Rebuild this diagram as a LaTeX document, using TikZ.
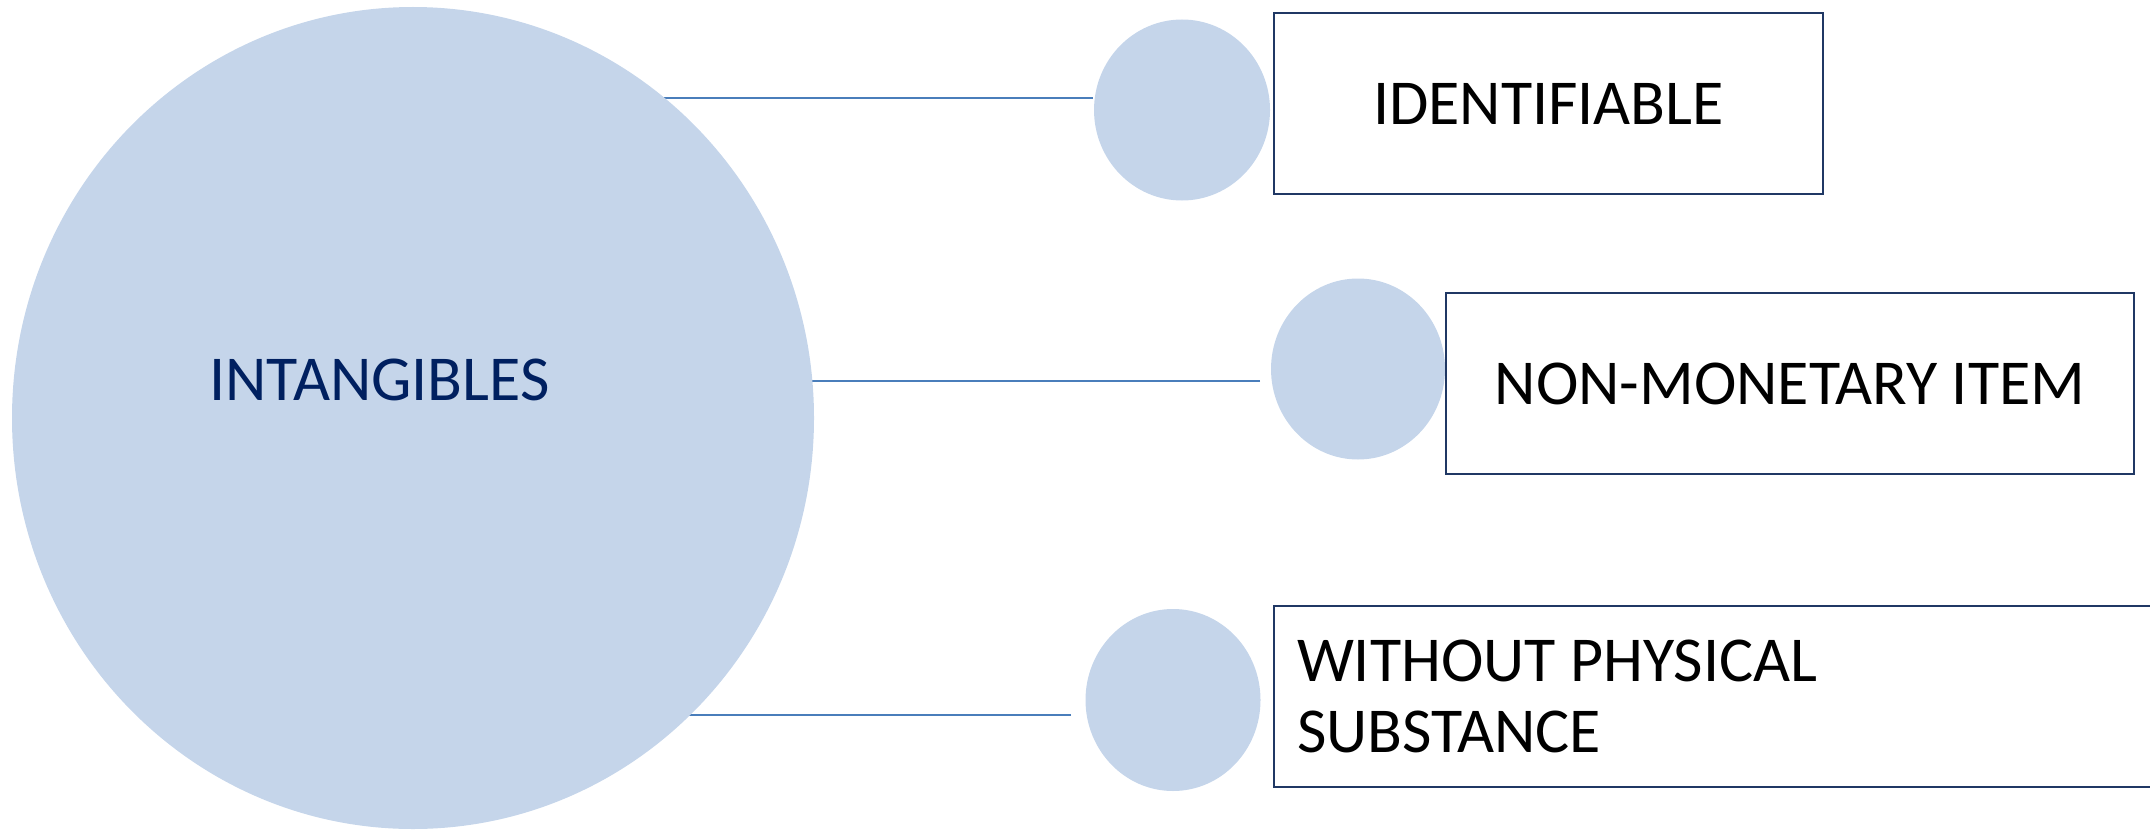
\documentclass[tikz,border=0pt]{standalone}
\usepackage{fontspec}
\setmainfont{Carlito}
\usetikzlibrary{shapes.geometric}
\definecolor{bubble}{HTML}{C5D5EA}
\definecolor{navy}{HTML}{002060}
\definecolor{boxline}{HTML}{203864}
\definecolor{conn}{HTML}{4A7EBB}
\tikzset{
  bubblenode/.style={ellipse, fill=bubble, draw=none, inner sep=0pt},
  itembox/.style={rectangle, draw=boxline, line width=0.9pt, fill=white, inner sep=0pt,
    font=\fontsize{32}{35.5}\selectfont, text=black},
  connline/.style={draw=conn, line width=1.1pt},
}
\begin{document}
\begin{tikzpicture}[x=0.5pt, y=-0.5pt]
\useasboundingbox (0,0) rectangle (2150,829);
% connector end points
\coordinate (e1) at (1093,98);
\coordinate (e2) at (1260,381);
\coordinate (e3) at (1071,715);
% big circle centre (for connector start)
\coordinate (bc) at (413,418);
\draw[connline] (e1) -- (e1 -| bc);
\draw[connline] (e2) -- (e2 -| bc);
\draw[connline] (e3) -- (e3 -| bc);
% big circle
\node[bubblenode, minimum width=401pt, minimum height=411pt] (big) at (bc) {};
\node[anchor=base, text=navy, font=\fontsize{32}{36}\selectfont, inner sep=0pt] (intang) at (379.5,400) {INTANGIBLES};
% small circles
\node[bubblenode, minimum width=88pt, minimum height=90.5pt] (c1) at (1182,110) {};
\node[bubblenode, minimum width=87pt, minimum height=90.5pt] (c2) at (1358,369) {};
\node[bubblenode, minimum width=87.5pt, minimum height=91pt] (c3) at (1173,700) {};
% boxes
\node[itembox, minimum width=274.5pt, minimum height=90.5pt] (b1) at (1548.5,103.5) {IDENTIFIABLE};
\node[itembox, minimum width=344pt, minimum height=90.5pt] (b2) at (1790,383.5) {NON-MONETARY ITEM};
\node[itembox, minimum width=443pt, minimum height=90.5pt, inner xsep=11.5pt, text width=420pt, align=flush left] (b3) at (1717,696.5) {WITHOUT PHYSICAL\\SUBSTANCE};
\end{tikzpicture}
\end{document}
